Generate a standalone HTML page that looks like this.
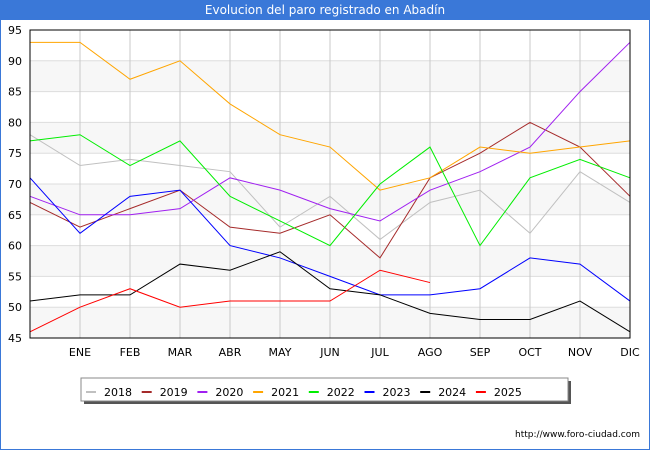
<!DOCTYPE html>
<html><head><meta charset="utf-8"><style>
body{margin:0;background:#fff;}
#wrap{position:relative;width:648px;height:448px;border:1px solid #3a78d8;background:#fff;font-family:"DejaVu Sans","Liberation Sans",sans-serif;}
#title{position:absolute;left:0;top:0;width:648px;height:19px;background:#3a78d8;color:#fff;font-size:12px;text-align:center;line-height:19px;}
</style></head><body>
<div id="wrap">
<div id="title">Evolucion del paro registrado en Abadín</div>
<svg id="chart" width="650" height="450" style="position:absolute;left:-1px;top:-1px"></svg>
</div>
<script>
const months=["","ENE","FEB","MAR","ABR","MAY","JUN","JUL","AGO","SEP","OCT","NOV","DIC"];
const yTicks=[45,50,55,60,65,70,75,80,85,90,95];
const years=["2018","2019","2020","2021","2022","2023","2024","2025"];
const colors=["#c0c0c0","#a52a2a","#a020f0","#ffa500","#00ee00","#0000ff","#000000","#ff0000"];
const s2018=[78,73,74,73,72,63,68,61,67,69,62,72,67];
const s2019=[67,63,66,69,63,62,65,58,71,75,80,76,68];
const s2020=[68,65,65,66,71,69,66,64,69,72,76,85,93];
const s2021=[93,93,87,90,83,78,76,69,71,76,75,76,77];
const s2022=[77,78,73,77,68,64,60,70,76,60,71,74,71];
const s2023=[71,62,68,69,60,58,55,52,52,53,58,57,51];
const s2024=[51,52,52,57,56,59,53,52,49,48,48,51,46];
const s2025=[46,50,53,50,51,51,51,56,54];
const series=[s2018,s2019,s2020,s2021,s2022,s2023,s2024,s2025];
const NS="http://www.w3.org/2000/svg";
const svg=document.getElementById('chart');
const L=30,R=630,T=30,B=338;
const x=i=>L+i*(R-L)/12;
const y=v=>B-(v-45)*(B-T)/50;
function mk(t,a,p){const e=document.createElementNS(NS,t);for(const k in a)e.setAttribute(k,a[k]);(p||svg).appendChild(e);return e;}
for(let i=0;i<yTicks.length-1;i++){
  if(i%2===0){const r=mk('rect',{x:L,y:y(yTicks[i+1]),width:R-L,height:y(yTicks[i])-y(yTicks[i+1]),fill:'#f7f7f7'});
  
  }
}
yTicks.forEach(v=>{
  const g=mk('line',{x1:L,x2:R,y1:y(v),y2:y(v),stroke:'#dddddd','stroke-width':1});
  
  
  const t=mk('text',{x:L-8,y:y(v)+4,'text-anchor':'end','font-size':11,fill:'#000','font-family':'DejaVu Sans, Liberation Sans, sans-serif'});
  t.textContent=v;
  
  
});
months.forEach((m,i)=>{
  if(i>0){const g=mk('line',{x1:x(i),x2:x(i),y1:T,y2:B,stroke:'#c8c8c8','stroke-width':1});
  
  
  const t=mk('text',{x:x(i),y:356,'text-anchor':'middle','font-size':11,fill:'#000','font-family':'DejaVu Sans, Liberation Sans, sans-serif'});
  t.textContent=m;
  
  }
});
series.forEach((s,k)=>{
  const p=mk('polyline',{points:s.map((v,i)=>x(i)+','+y(v)).join(' '),fill:'none',stroke:colors[k],'stroke-width':1});
  
  
});
const fr=mk('rect',{x:L,y:T,width:R-L,height:B-T,fill:'none',stroke:'#000','stroke-width':1});


const sh=mk('rect',{x:84,y:381,width:487,height:23,fill:'#555'});


const lg=mk('rect',{x:81,y:378,width:487,height:23,fill:'#fff',stroke:'#888','stroke-width':1});


years.forEach((yr,k)=>{
  const lx=86+k*55.7;
  const l=mk('line',{x1:lx,x2:lx+10,y1:392,y2:392,stroke:colors[k],'stroke-width':2});
  
  
  const t=mk('text',{x:lx+18,y:396,'font-size':11,fill:'#000','font-family':'DejaVu Sans, Liberation Sans, sans-serif'});
  t.textContent=yr;
  
  
});
const u=mk('text',{x:640,y:437,'text-anchor':'end','font-size':9,fill:'#000','font-family':'DejaVu Sans, Liberation Sans, sans-serif'});
u.textContent='http://www.foro-ciudad.com';


</script>
</body></html>
